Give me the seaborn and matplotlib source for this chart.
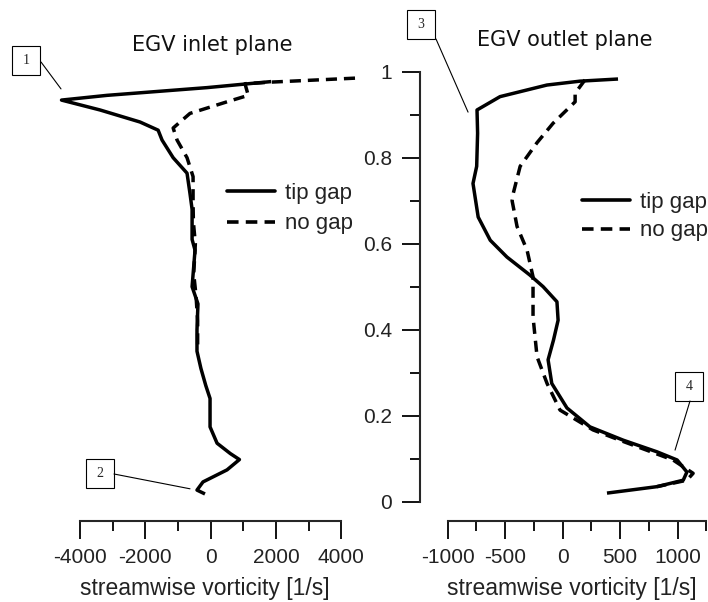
import numpy as np
import pandas as pd
import matplotlib
matplotlib.use("Agg")
import matplotlib.pyplot as plt
import seaborn as sns
from matplotlib.patches import Rectangle
from matplotlib.lines import Line2D

# ---------------- data (vorticity [1/s], normalized span) ----------------
inlet_tip_x = [1850, -110, -3175, -4570, -3390, -2165, -1610, -1490, -1150, -725,
               -635, -570, -570, -480, -570, -390, -420, -420, -300, -150,
               -20, -20, 195, 600, 880, 500, -236, -420, -175]
inlet_tip_y = [0.977, 0.963, 0.945, 0.934, 0.911, 0.883, 0.864, 0.841, 0.800, 0.764,
               0.717, 0.680, 0.610, 0.585, 0.500, 0.460, 0.400, 0.350, 0.310, 0.270,
               0.240, 0.174, 0.136, 0.112, 0.098, 0.074, 0.046, 0.027, 0.018]

inlet_nogap_x = [4420, 1910, 1050, 1150, 500, -635, -1150, -1030, -725, -540,
                 -540, -530, -470, -520, -450, -400, -400]
inlet_nogap_y = [0.985, 0.976, 0.972, 0.945, 0.930, 0.903, 0.869, 0.841, 0.800, 0.756,
                 0.695, 0.650, 0.600, 0.530, 0.480, 0.420, 0.350]

outlet_tip_x = [481, 150, -137, -545, -745, -740, -748, -780, -735, -630,
                -485, -285, -170, -50, -40, -80, -127, -95, 37, 237,
                527, 820, 995, 1080, 1048, 820, 385]
outlet_tip_y = [0.983, 0.978, 0.969, 0.942, 0.911, 0.857, 0.780, 0.740, 0.662, 0.608,
                0.569, 0.527, 0.500, 0.465, 0.422, 0.376, 0.330, 0.275, 0.218, 0.174,
                0.143, 0.116, 0.097, 0.069, 0.050, 0.035, 0.020]

outlet_nogap_x = [194, 108, 108, -84, -223, -370, -430, -440, -397, -310,
                  -258, -258, -223, -136, -23, 263, 527, 960, 1134, 1080, 820]
outlet_nogap_y = [0.981, 0.950, 0.930, 0.880, 0.835, 0.780, 0.717, 0.700, 0.640, 0.585,
                  0.523, 0.430, 0.337, 0.275, 0.213, 0.167, 0.140, 0.097, 0.066, 0.050, 0.035]

case_labels = ["tip gap", "no gap"]
titles = ["EGV inlet plane", "EGV outlet plane"]
xlabel = "streamwise vorticity [1/s]"
inlet_xticks = [-4000, -2000, 0, 2000, 4000]
inlet_xminor = [-3000, -1000, 1000, 3000]
outlet_xticks = [-1000, -500, 0, 500, 1000]
outlet_xminor = [-750, -250, 250, 750, 1250]
yticks = [0, 0.2, 0.4, 0.6, 0.8, 1.0]
yticklabels = ["0", "0.2", "0.4", "0.6", "0.8", "1"]
yminor = [0.1, 0.3, 0.5, 0.7, 0.9]

def frame(xt, yt, xn, yn):
    a = pd.DataFrame({"vort": xt, "span": yt, "case": case_labels[0]})
    b = pd.DataFrame({"vort": xn, "span": yn, "case": case_labels[1]})
    return pd.concat([a, b], ignore_index=True)

df_in = frame(inlet_tip_x, inlet_tip_y, inlet_nogap_x, inlet_nogap_y)
df_out = frame(outlet_tip_x, outlet_tip_y, outlet_nogap_x, outlet_nogap_y)

# ---------------- figure ----------------
sns.set_style("ticks")
plt.rcParams["font.family"] = ["Liberation Sans", "DejaVu Sans"]

W, H = 708, 602
fig = plt.figure(figsize=(W / 100, H / 100), dpi=100)

def px_axes(l, t, r, b):
    return fig.add_axes([l / W, 1 - b / H, (r - l) / W, (b - t) / H])

# pixel mapping: span v -> 501.7 - 430 v ; axes bottom at 520.5, top at 60
y0, ypx = 501.7, 430.0
ylim = ((y0 - 520.5) / ypx, (y0 - 60) / ypx)

ax1 = px_axes(60, 60, 365, 520.5)
ax2 = px_axes(420, 60, 708, 520.5)

ax1.set_xlim((60 - 210.7) / 0.03265, (365 - 210.7) / 0.03265)
ax2.set_xlim((420 - 562.7) / 0.115, (708 - 562.7) / 0.115)
for ax in (ax1, ax2):
    ax.set_ylim(*ylim)
    ax.patch.set_alpha(0)

dash_map = {case_labels[0]: "", case_labels[1]: (3.2, 2.0)}
for ax, df in ((ax1, df_in), (ax2, df_out)):
    sns.lineplot(data=df, x="vort", y="span", style="case", dashes=dash_map,
                 units="case", estimator=None, sort=False, color="black",
                 linewidth=2.5, ax=ax, legend=False)
    for l in ax.lines:
        l.set_clip_on(False)
        l.set_solid_capstyle("butt")
        l.set_dash_capstyle("butt")
    ax.set_xlabel("")
    ax.set_ylabel("")

tick_kw = dict(direction="out", width=1.3, color="black", labelsize=15)
# left panel: only bottom axis
for s in ("top", "right", "left"):
    ax1.spines[s].set_visible(False)
ax1.spines["bottom"].set_bounds(-4000, 4000)
ax1.spines["bottom"].set_linewidth(1.5)
ax1.set_xticks(inlet_xticks)
ax1.set_xticklabels([str(v) for v in inlet_xticks])
ax1.set_xticks(inlet_xminor, minor=True)
ax1.set_yticks([])
ax1.tick_params(axis="x", which="major", bottom=True, length=13, pad=7, **tick_kw)
ax1.tick_params(axis="x", which="minor", bottom=True, length=7, width=1.3, color="black")

# right panel
for s in ("top", "right"):
    ax2.spines[s].set_visible(False)
ax2.spines["bottom"].set_bounds(-1000, 1250)
ax2.spines["left"].set_bounds(0, 1)
ax2.spines["bottom"].set_linewidth(1.5)
ax2.spines["left"].set_linewidth(1.5)
ax2.set_xticks(outlet_xticks)
ax2.set_xticklabels([str(v) for v in outlet_xticks])
ax2.set_xticks(outlet_xminor, minor=True)
ax2.set_yticks(yticks)
ax2.set_yticklabels(yticklabels)
ax2.set_yticks(yminor, minor=True)
ax2.tick_params(axis="both", which="major", bottom=True, left=True, length=13, pad=7, **tick_kw)
ax2.tick_params(axis="both", which="minor", bottom=True, left=True, length=7, width=1.3, color="black")

for lab in ax1.get_xticklabels() + ax2.get_xticklabels() + ax2.get_yticklabels():
    lab.set_color("#222222")

# x labels
fig.text(205 / W, 1 - 588 / H, xlabel, ha="center", va="center", fontsize=16.5, color="#222222")
fig.text(572 / W, 1 - 588 / H, xlabel, ha="center", va="center", fontsize=16.5, color="#222222")

# titles
fig.text(212 / W, 1 - 45 / H, titles[0], ha="center", va="center", fontsize=15,
         family=["DejaVu Sans"], color="#111111")
fig.text(565 / W, 1 - 40 / H, titles[1], ha="center", va="center", fontsize=15,
         family=["DejaVu Sans"], color="#111111")

# legends
def add_legend(ax, x_px, y_px, spacing):
    handles = [Line2D([], [], color="black", lw=2.6, linestyle="-"),
               Line2D([], [], color="black", lw=2.6, linestyle=(0, (3.2, 2.0)))]
    leg = ax.legend(handles, case_labels, loc="upper left",
                    bbox_to_anchor=(x_px / W, 1 - y_px / H),
                    bbox_transform=fig.transFigure, frameon=False,
                    fontsize=16, handlelength=2.15, handletextpad=0.45,
                    labelspacing=spacing, borderpad=0, borderaxespad=0)
    for t in leg.get_texts():
        t.set_color("#222222")

add_legend(ax1, 227, 183, 0.42)
add_legend(ax2, 582, 192, 0.33)

# numbered callouts
def callout(ax, num, box_l, box_t, anchor_px, target):
    bw, bh = 28, 29
    rect = Rectangle((box_l / W, 1 - (box_t + bh) / H), bw / W, bh / H,
                     transform=fig.transFigure, fill=False, lw=0.8, ec="black")
    fig.add_artist(rect)
    fig.text((box_l + bw / 2) / W, 1 - (box_t + bh / 2) / H, num, ha="center", va="center",
             fontsize=10, family=["Liberation Serif"])
    ax.annotate("", xy=target, xycoords="data",
                xytext=(anchor_px[0], H - anchor_px[1]), textcoords="figure pixels",
                arrowprops=dict(arrowstyle="-", lw=0.8, color="black",
                                shrinkA=0, shrinkB=0),
                annotation_clip=False)

callout(ax1, "1", 12, 46, (41, 62), (-4585, 0.960))
callout(ax1, "2", 86, 459, (114, 474), (-634, 0.030))
callout(ax2, "3", 407, 10, (436, 39), (-823, 0.906))
callout(ax2, "4", 675, 372, (690, 401), (977, 0.120))

fig.savefig("out.png", dpi=100)
